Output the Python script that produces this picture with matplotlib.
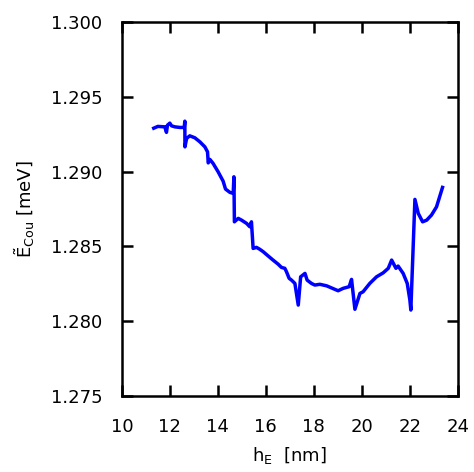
import matplotlib
matplotlib.use("Agg")
import matplotlib.pyplot as plt

# Coulomb energy vs. electron layer thickness
h_E = [11.33, 11.50, 11.79, 11.86, 11.90, 12.00, 12.07, 12.21, 12.42, 12.60,
       12.625, 12.63, 12.70, 12.83, 13.04, 13.25, 13.46, 13.57, 13.60, 13.67,
       13.80, 14.01, 14.22, 14.32, 14.50, 14.64, 14.67, 14.69, 14.85, 14.99,
       15.20, 15.33, 15.40, 15.47, 15.61, 15.75, 15.89, 16.10, 16.30, 16.51,
       16.65, 16.79, 16.86, 16.97, 17.07, 17.21, 17.35, 17.45, 17.63, 17.72,
       17.90, 18.04, 18.25, 18.53, 19.01, 19.22, 19.47, 19.57, 19.71, 19.92,
       20.05, 20.33, 20.61, 20.89, 21.10, 21.24, 21.42, 21.51, 21.72, 21.89,
       22.00, 22.04, 22.21, 22.35, 22.53, 22.70, 22.90, 23.11, 23.36]
E_cou = [1.29291, 1.29303, 1.29300, 1.29263, 1.29311, 1.29325, 1.29307, 1.29300, 1.29296, 1.29296,
         1.29338, 1.29166, 1.29223, 1.29240, 1.29227, 1.29200, 1.29166, 1.29133, 1.29059, 1.29082,
         1.29056, 1.29000, 1.28937, 1.28884, 1.28862, 1.28855, 1.28966, 1.28665, 1.28688, 1.28676,
         1.28654, 1.28632, 1.28665, 1.28487, 1.28494, 1.28481, 1.28465, 1.28436, 1.28409, 1.28382,
         1.28360, 1.28354, 1.28331, 1.28287, 1.28275, 1.28253, 1.28108, 1.28297, 1.28320, 1.28275,
         1.28253, 1.28242, 1.28247, 1.28237, 1.28204, 1.28220, 1.28231, 1.28280, 1.28080, 1.28186,
         1.28197, 1.28253, 1.28297, 1.28324, 1.28354, 1.28409, 1.28354, 1.28369, 1.28320, 1.28253,
         1.28142, 1.28075, 1.28815, 1.28721, 1.28665, 1.28676, 1.28710, 1.28765, 1.28895]

xticks = [10, 12, 14, 16, 18, 20, 22, 24]
yticks = [1.275, 1.280, 1.285, 1.290, 1.295, 1.300]

fig = plt.figure(figsize=(4.74, 4.72), dpi=100)
ax = fig.add_axes([0.257, 0.161, 0.709, 0.792])
ax.plot(h_E, E_cou, color="#0000ff", lw=2.5)

ax.set_xlim(10, 24)
ax.set_ylim(1.275, 1.300)
ax.set_xticks(xticks)
ax.set_yticks(yticks)
ax.set_yticklabels(["%.3f" % v for v in yticks])
ax.tick_params(direction="in", length=8, width=1.8, labelsize=13,
               top=True, right=True)
ax.tick_params(axis="x", pad=16)
ax.tick_params(axis="y", pad=14)
for s in ax.spines.values():
    s.set_linewidth(1.8)

ax.set_xlabel(r"h$_\mathrm{E}$  [nm]", fontsize=13, labelpad=6)
ax.set_ylabel(r"$\tilde{\mathrm{E}}_\mathrm{Cou}$ [meV]", fontsize=13, labelpad=10)

fig.savefig("out.png", dpi=100)
